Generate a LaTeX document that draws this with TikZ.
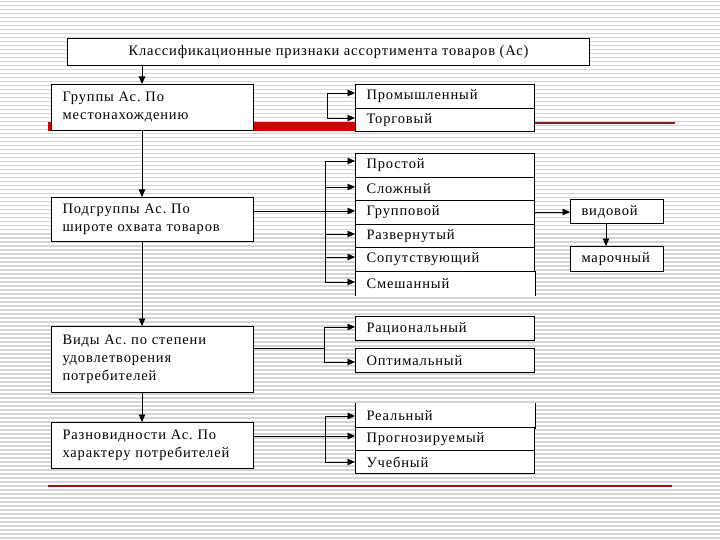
\documentclass[tikz,border=0pt]{standalone}
\usepackage{fontspec}
\setmainfont{Liberation Serif}[LetterSpace=6]
\frenchspacing
\usetikzlibrary{arrows.meta}
\definecolor{stripe}{HTML}{D4D4D4}
\definecolor{barred}{HTML}{CC0000}
\definecolor{linered}{HTML}{8B1A1A}
\tikzset{
  box/.style={draw=black, fill=white, line width=1pt, inner xsep=11pt, inner ysep=0pt,
    anchor=north west, font=\fontsize{14.5}{18}\selectfont},
  lbox/.style={box, text width=#1, align=left},
  arr/.style={-{Triangle[length=7.5pt,width=6.5pt]}, line width=0.9pt},
  ln/.style={line width=0.9pt},
}
\begin{document}
\begin{tikzpicture}[x=1pt,y=-1pt]
\useasboundingbox (0,0) rectangle (720,540);
\fill[white] (0,0) rectangle (720,540);
\foreach \i in {0,...,134} {
  \fill[stripe] (0,{4*\i+1}) rectangle (720,{4*\i+2.5});
}
% red bars
\fill[barred] (48,122) rectangle (355,131);
\draw[linered, line width=1.4pt] (535,123) -- (675,123);
\draw[linered, line width=1.4pt] (48,486) -- (672,486);

% top box
\node[box, minimum width=522pt, minimum height=27pt, align=center] (top) at (67,38) {Классификационные признаки ассортимента товаров (Ас)};

% left column
\node[lbox=180pt, minimum height=46pt] (g1) at (51,84) {Группы Ас. По\\ местонахождению};
\node[lbox=180pt, minimum height=44pt] (g2) at (51,197) {Подгруппы Ас. По\\ широте охвата товаров};
\node[lbox=180pt, minimum height=66pt] (g3) at (51,326) {Виды Ас. по степени\\ удовлетворения\\ потребителей};
\node[lbox=180pt, minimum height=46pt] (g4) at (51,422) {Разновидности Ас. По\\ характеру потребителей};

% right boxes group 1
\node[lbox=157pt, minimum height=24pt] (p1) at (355,84) {Промышленный};
\node[lbox=157pt, minimum height=23pt] (p2) at (355,108) {Торговый};

% group 2 stack
\node[lbox=157pt, minimum height=24pt] (s1) at (355,153) {Простой};
\node[lbox=157pt, minimum height=23pt] (s2) at (355,177) {Сложный};
\node[lbox=157pt, minimum height=24pt] (s3) at (355,200) {Групповой};
\node[lbox=157pt, minimum height=23pt] (s4) at (355,224) {Развернутый};
\node[lbox=157pt, minimum height=24pt] (s5) at (355,247) {Сопутствующий};
\node[lbox=157pt, minimum height=24pt, draw=none] (s6) at (355,271) {Смешанный};
\draw[line width=1pt] (s6.south west) -- (s6.north west) -- (s6.north east) -- (s6.south east);

\node[lbox=71pt, minimum height=24pt] (v1) at (570,199) {видовой};
\node[lbox=71pt, minimum height=25pt] (v2) at (570,246) {марочный};

% group 3
\node[lbox=157pt, minimum height=24pt] (r1) at (355,316) {Рациональный};
\node[lbox=157pt, minimum height=24pt] (r2) at (355,348) {Оптимальный};

% group 4
\node[lbox=157pt, minimum height=24pt, draw=none] (t1) at (355,403) {Реальный};
\draw[line width=1pt] (t1.north west) -- (t1.south west) -- (t1.south east) -- (t1.north east);
\node[lbox=157pt, minimum height=24pt] (t2) at (355,427) {Прогнозируемый};
\node[lbox=157pt, minimum height=23pt] (t3) at (355,450) {Учебный};

% vertical chain
\coordinate (xA) at (142,0);
\draw[arr] (top.south -| xA) -- (g1.north -| xA);
\draw[arr] (g1.south -| xA) -- (g2.north -| xA);
\draw[arr] (g2.south -| xA) -- (g3.north -| xA);
\draw[arr] (g3.south -| xA) -- (g4.north -| xA);

% bracket group 1
\coordinate (b1a) at (327,93);
\coordinate (b1b) at (327,118);
\draw[ln] (b1a) -- (b1b);
\draw[arr] (b1a) -- (b1a -| p1.west);
\draw[arr] (b1b) -- (b1b -| p2.west);

% bracket group 2
\coordinate (b2a) at (325,161);
\coordinate (b2b) at (325,282);
\draw[ln] (b2a) -- (b2b);
\draw[arr] (b2a) -- (b2a -| s1.west);
\draw[arr] (325,187) -- (s2.west |- 0,187);
\draw[arr] (g2.east |- 0,211) -- (s3.west |- 0,211);
\draw[arr] (325,234) -- (s4.west |- 0,234);
\draw[arr] (325,257) -- (s5.west |- 0,257);
\draw[arr] (b2b) -- (b2b -| s6.west);

\draw[arr] (s3.east |- 0,212) -- (v1.west |- 0,212);
\draw[arr] (v1.south -| 606,0) -- (v2.north -| 606,0);

% bracket group 3
\coordinate (b3a) at (324,327);
\coordinate (b3b) at (324,362);
\draw[ln] (g3.east |- 0,348) -- (324,348);
\draw[ln] (b3a) -- (b3b);
\draw[arr] (b3a) -- (b3a -| r1.west);
\draw[arr] (b3b) -- (b3b -| r2.west);

% bracket group 4
\coordinate (b4a) at (325,416);
\coordinate (b4b) at (325,462);
\draw[ln] (b4a) -- (b4b);
\draw[arr] (b4a) -- (b4a -| t1.west);
\draw[arr] (g4.east |- 0,436) -- (t2.west |- 0,436);
\draw[arr] (b4b) -- (b4b -| t3.west);
\end{tikzpicture}
\end{document}
